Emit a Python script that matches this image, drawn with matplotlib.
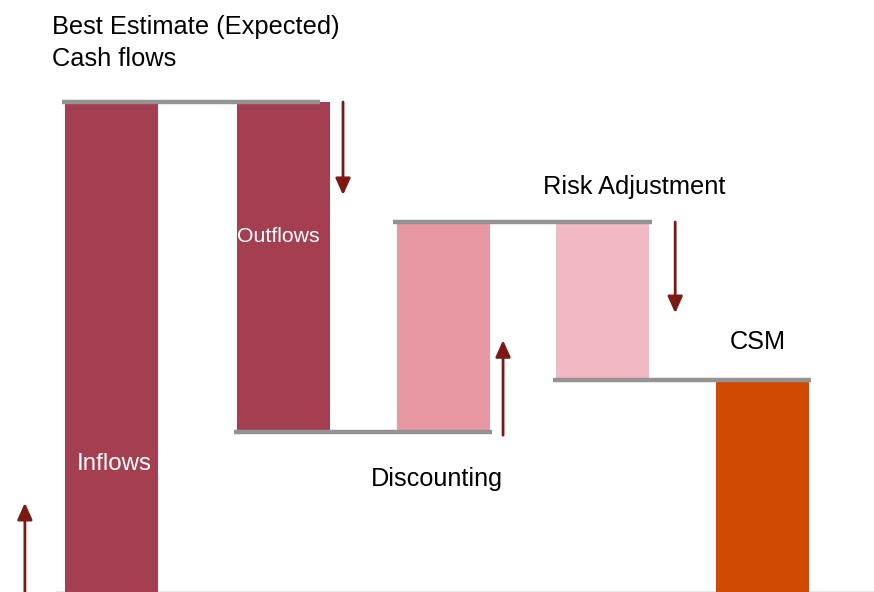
import matplotlib
matplotlib.use("Agg")
import matplotlib.pyplot as plt
import numpy as np

plt.rcParams['font.family'] = ['Liberation Sans', 'DejaVu Sans']

# ---- data ----
categories = ["Inflows", "Outflows", "Discounting", "Risk Adjustment", "CSM"]
changes = [100.0, -67.4, 42.9, -32.2]          # waterfall steps
csm_value = sum(changes)                        # final total bar
colors = ["#A43F51", "#A43F51", "#E898A3", "#F1B9C3", "#D04A02"]
title_lines = ["Best Estimate (Expected)", "Cash flows"]

# ---- layout ----
xpos = np.array([-0.078, 1.0, 2.0, 3.0, 4.0])
width = 0.583

fig = plt.figure(figsize=(8.74, 5.92), dpi=100)
ax = fig.add_axes([0, 0, 1, 1])
ax.set_xlim(-0.777, 4.701)
ax.set_ylim(0, 592 / 4.9)
ax.axis("off")

# compute bar bottoms/tops
levels = np.concatenate([[0.0], np.cumsum(changes)])
bottoms, heights = [], []
for i, c in enumerate(changes):
    lo = min(levels[i], levels[i + 1])
    bottoms.append(lo)
    heights.append(abs(c))
bottoms.append(0.0)
heights.append(csm_value)

ax.bar(xpos, heights, bottom=bottoms, width=width, color=colors, zorder=2)

# baseline
ax.plot([-0.42, 4.701], [0, 0], color="#e8e8e8", lw=1.5, zorder=1)

# connector lines
left_ext = [0.02, 0.02, 0.02, 0.02]
right_ext = [-0.06, 0.015, 0.015, 0.015]
for k in range(4):
    x0 = xpos[k] - width / 2 - left_ext[k]
    x1 = xpos[k + 1] + width / 2 + right_ext[k]
    ax.plot([x0, x1], [levels[k + 1], levels[k + 1]], color="#939393",
            lw=3.2, solid_capstyle="butt", zorder=3)

# arrows
arrow_color = "#7B1A14"
arrow_specs = [
    (-0.621, 0.0, 18.2),
    (1.373, levels[1], 81.0),
    (2.376, 32.0, 51.4),
    (3.455, levels[3], 56.9),
]
for x, y0, y1 in arrow_specs:
    ax.annotate("", xy=(x, y1), xytext=(x, y0),
                arrowprops=dict(arrowstyle="-|>,head_length=1.0,head_width=0.45",
                                color=arrow_color, lw=2, shrinkA=0, shrinkB=0),
                zorder=4)

# labels
ax.text(xpos[0] + 0.02, (592 - 464) / 4.9, categories[0], color="white",
        fontsize=17.4, ha="center", va="center", zorder=5)
ax.text(xpos[1] - 0.03, (592 - 237) / 4.9, categories[1], color="white",
        fontsize=15.3, ha="center", va="center", zorder=5)
ax.text(2.0 - 0.04, (592 - 479) / 4.9, categories[2], color="black",
        fontsize=18.2, ha="center", va="center", zorder=5)
ax.text(3.2, (592 - 187) / 4.9, categories[3], color="black",
        fontsize=18.3, ha="center", va="center", zorder=5)
ax.text(3.97, (592 - 342) / 4.9, categories[4], color="black",
        fontsize=18.2, ha="center", va="center", zorder=5)

for line, ypx in zip(title_lines, [27, 59]):
    fig.text(52 / 874, 1 - ypx / 592, line, color="black", fontsize=18.3,
             ha="left", va="center")

fig.savefig("out.png", dpi=100)
